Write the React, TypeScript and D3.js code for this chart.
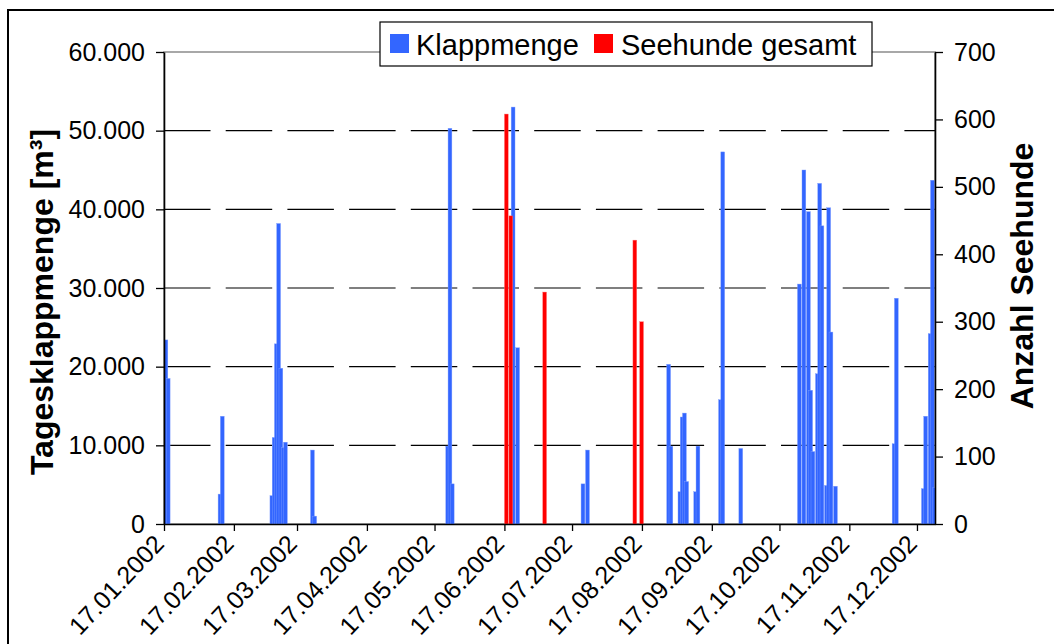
import React, { useEffect, useRef } from "react";
import * as d3 from "d3";

// Tagesklappmenge (m³) per day
const klappDates = [
  "17.01.2002", "18.01.2002", "10.02.2002", "11.02.2002",
  "05.03.2002", "06.03.2002", "07.03.2002", "08.03.2002", "09.03.2002", "10.03.2002", "11.03.2002",
  "23.03.2002", "24.03.2002",
  "22.05.2002", "23.05.2002", "24.05.2002",
  "20.06.2002", "22.06.2002",
  "21.07.2002", "23.07.2002",
  "28.08.2002", "29.08.2002",
  "02.09.2002", "03.09.2002", "04.09.2002", "05.09.2002", "09.09.2002", "10.09.2002",
  "20.09.2002", "21.09.2002", "29.09.2002",
  "25.10.2002", "27.10.2002", "29.10.2002", "30.10.2002", "31.10.2002",
  "02.11.2002", "03.11.2002", "04.11.2002", "06.11.2002", "07.11.2002", "08.11.2002", "10.11.2002",
  "06.12.2002", "07.12.2002",
  "19.12.2002", "20.12.2002", "22.12.2002", "23.12.2002", "24.12.2002",
];
const klappValues = [
  23400, 18500, 3800, 13700,
  3600, 11000, 22900, 38200, 19800, 9700, 10400,
  9400, 1000,
  9900, 50300, 5100,
  53000, 22400,
  5100, 9400,
  20300, 9900,
  4100, 13600, 14100, 5400, 4100, 9900,
  15800, 47300, 9600,
  30500, 45000, 39700, 17000, 9200,
  19100, 43300, 37900, 4900, 40200, 24400, 4800,
  10200, 28700,
  4500, 13700, 24200, 43700, 4600,
];

// Seehunde gesamt (Anzahl)
const seehundDates = ["17.06.2002", "19.06.2002", "04.07.2002", "13.08.2002", "16.08.2002"];
const seehundValues = [608, 457, 344, 421, 300];

const xTickLabels = [
  "17.01.2002", "17.02.2002", "17.03.2002", "17.04.2002", "17.05.2002", "17.06.2002",
  "17.07.2002", "17.08.2002", "17.09.2002", "17.10.2002", "17.11.2002", "17.12.2002",
];
const leftTicks = [0, 10000, 20000, 30000, 40000, 50000, 60000];
const rightTicks = [0, 100, 200, 300, 400, 500, 600, 700];
const axisStart = "17.01.2002";
const axisEnd = "25.12.2002";

const FONT = "'Liberation Sans', Arial, sans-serif";
const BLUE = "#3366ff";
const RED = "#ff0000";

function Chart() {
  const ref = useRef<SVGSVGElement>(null);

  useEffect(() => {
    const svg = d3.select(ref.current);
    svg.selectAll("*").remove();

    const width = 1054;
    const height = 644;
    const left = 164, right = 935, top = 52, bottom = 524;

    const parse = d3.utcParse("%d.%m.%Y");
    const de = d3.formatLocale({ decimal: ",", thousands: ".", grouping: [3], currency: ["", "€"] });
    const fmt = de.format(",");

    const x = d3.scaleUtc().domain([parse(axisStart)!, parse(axisEnd)!]).range([left, right]);
    const yL = d3.scaleLinear().domain([0, 60000]).range([bottom, top]);
    const yR = d3.scaleLinear().domain([0, 700]).range([bottom, top]);
    const dayW = x(d3.utcDay.offset(parse(axisStart)!, 1)) - left;
    const barW = dayW * 1.7;

    svg.append("rect").attr("width", width).attr("height", height).attr("fill", "#fff");

    // outer frame
    svg.append("rect")
      .attr("x", 8).attr("y", 10).attr("width", 1100).attr("height", 700)
      .attr("fill", "none").attr("stroke", "#000").attr("stroke-width", 2);

    // plot area border
    svg.append("rect")
      .attr("x", left).attr("y", top).attr("width", right - left).attr("height", bottom - top)
      .attr("fill", "none").attr("stroke", "#8c8c8c").attr("stroke-width", 1.5);

    // gridlines
    svg.append("g").selectAll("line")
      .data(leftTicks.filter((t) => t > 0 && t < 60000))
      .join("line")
      .attr("x1", left).attr("x2", right)
      .attr("y1", (d) => yL(d)).attr("y2", (d) => yL(d))
      .attr("stroke", "#000").attr("stroke-width", 1.2)
      .attr("stroke-dasharray", "46.5 15.2");

    const clip = svg.append("clipPath").attr("id", "plotclip");
    clip.append("rect").attr("x", left).attr("y", top - 5).attr("width", right - left).attr("height", bottom - top + 5);

    const bars = svg.append("g").attr("clip-path", "url(#plotclip)");

    const klapp = klappDates.map((d, i) => ({ date: parse(d)!, value: klappValues[i] }));
    bars.append("g").selectAll("rect")
      .data(klapp)
      .join("rect")
      .attr("x", (d) => x(d.date))
      .attr("y", (d) => yL(d.value))
      .attr("width", barW)
      .attr("height", (d) => bottom - yL(d.value))
      .attr("fill", BLUE)
      .attr("stroke", "#7f9fff").attr("stroke-width", 0.4);

    const seehunde = seehundDates.map((d, i) => ({ date: parse(d)!, value: seehundValues[i] }));
    bars.append("g").selectAll("rect")
      .data(seehunde)
      .join("rect")
      .attr("x", (d) => x(d.date))
      .attr("y", (d) => yR(d.value))
      .attr("width", barW)
      .attr("height", (d) => bottom - yR(d.value))
      .attr("fill", RED)
      .attr("stroke", "#ff7f7f").attr("stroke-width", 0.4);

    // axes
    const leftAxis = svg.append("g")
      .attr("transform", `translate(${left},0)`)
      .call(d3.axisLeft(yL).tickValues(leftTicks).tickFormat((d) => fmt(+d)).tickSize(8).tickSizeOuter(0).tickPadding(11));

    const rightAxis = svg.append("g")
      .attr("transform", `translate(${right},0)`)
      .call(d3.axisRight(yR).tickValues(rightTicks).tickSize(8).tickSizeOuter(0).tickPadding(11));

    const tickDates = xTickLabels.map((d) => parse(d)!);
    const bottomAxis = svg.append("g")
      .attr("transform", `translate(0,${bottom})`)
      .call(d3.axisBottom(x).tickValues(tickDates).tickFormat(() => "").tickSize(7).tickSizeOuter(0));

    [leftAxis, rightAxis, bottomAxis].forEach((g) => {
      g.select(".domain").attr("stroke", "#000").attr("stroke-width", 1.6);
      g.selectAll(".tick line").attr("stroke", "#000").attr("stroke-width", 1.3);
      g.selectAll("text").attr("font-family", FONT).attr("font-size", 25).attr("fill", "#000");
    });

    // x labels, rotated
    svg.append("g").selectAll("text")
      .data(tickDates)
      .join("text")
      .attr("transform", (d) => `translate(${x(d) - 5},${bottom + 15}) rotate(-47)`)
      .attr("text-anchor", "end")
      .attr("dy", "0.35em")
      .attr("font-family", FONT)
      .attr("font-size", 25)
      .text((d, i) => xTickLabels[i]);

    // axis titles
    svg.append("text")
      .attr("transform", `translate(53,302) rotate(-90)`)
      .attr("text-anchor", "middle")
      .attr("font-family", FONT).attr("font-weight", "bold").attr("font-size", 32)
      .text("Tagesklappmenge [m³]");

    svg.append("text")
      .attr("transform", `translate(1033,276) rotate(-90)`)
      .attr("text-anchor", "middle")
      .attr("font-family", FONT).attr("font-weight", "bold").attr("font-size", 32)
      .text("Anzahl Seehunde");

    // legend
    const lg = svg.append("g");
    lg.append("rect")
      .attr("x", 380).attr("y", 22).attr("width", 492).attr("height", 44)
      .attr("fill", "#fff").attr("stroke", "#000").attr("stroke-width", 1.2);
    const items = [
      { label: "Klappmenge", color: BLUE, sx: 390, tx: 416 },
      { label: "Seehunde gesamt", color: RED, sx: 594, tx: 621 },
    ];
    items.forEach((it) => {
      lg.append("rect").attr("x", it.sx).attr("y", 34).attr("width", 19).attr("height", 19).attr("fill", it.color);
      lg.append("text")
        .attr("x", it.tx).attr("y", 55)
        .attr("font-family", FONT).attr("font-size", 29)
        .text(it.label);
    });
  }, []);

  return <svg ref={ref} width={1054} height={644} style={{ position: "fixed", left: 0, top: 0, display: "block" }} />;
}

export default function App() {
  return <Chart />;
}
